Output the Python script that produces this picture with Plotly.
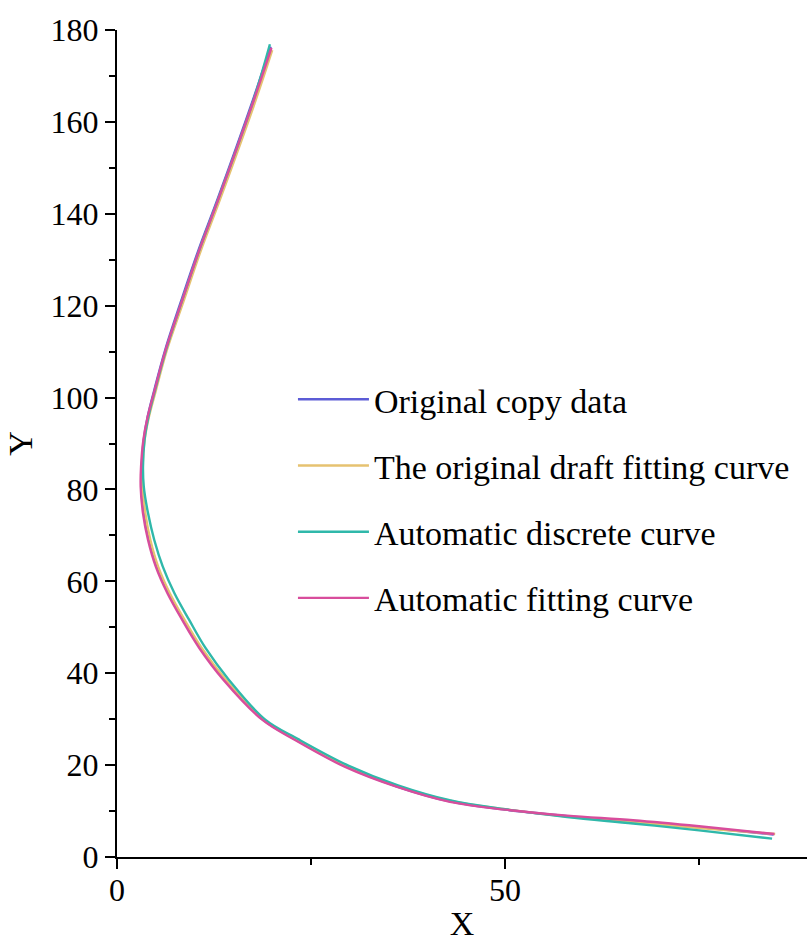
import plotly.graph_objects as go

# Original copy data
orig_x = [19.8, 17.5, 12.9, 10.5, 8.3, 6.2, 4.8, 3.95, 3.45, 3.2, 3.2, 3.55, 4.2, 5.2, 6.7, 8.6,
          10.8, 13.9, 18.8, 23.1, 29.5, 36.0, 42.9, 50.0, 58.0, 66.5, 75.0, 84.6]
orig_y = [176.4, 164.7, 142.9, 132.1, 121.2, 110.3, 101.6, 95.8, 90.8, 85.0, 80.6, 74.8, 69.0, 63.2, 57.4, 51.6,
          45.5, 38.6, 29.9, 25.5, 19.7, 15.4, 12.1, 10.3, 8.9, 7.75, 6.5, 4.9]

# The original draft fitting curve
draft_x = [20.0, 17.8, 13.2, 10.8, 8.6, 6.4, 5.0, 4.1, 3.55, 3.3, 3.3, 3.65, 4.3, 5.3, 6.8, 8.7,
           10.9, 14.0, 18.9, 23.2, 29.6, 36.1, 43.0, 50.0, 58.0, 66.5, 75.0, 84.8]
draft_y = [175.6, 164.4, 142.8, 132.0, 121.1, 110.2, 101.5, 95.7, 90.7, 85.0, 80.6, 74.8, 69.0, 63.2, 57.4, 51.6,
           45.5, 38.6, 29.9, 25.6, 19.8, 15.5, 12.2, 10.4, 8.8, 7.6, 6.3, 5.0]

# Automatic discrete curve
disc_x = [19.7, 17.6, 13.0, 10.6, 8.4, 6.3, 4.9, 4.05, 3.55, 3.35, 3.45, 4.0, 4.8, 5.9, 7.4, 9.3,
          11.4, 14.4, 19.1, 23.4, 29.8, 36.2, 43.0, 50.0, 58.0, 66.5, 75.0, 84.4]
disc_y = [176.9, 164.8, 143.0, 132.1, 121.2, 110.3, 101.6, 95.8, 90.8, 85.0, 80.6, 74.8, 69.0, 63.2, 57.4, 51.6,
          45.5, 38.6, 29.9, 25.6, 19.9, 15.6, 12.3, 10.4, 8.7, 7.3, 5.8, 4.0]

# Automatic fitting curve
auto_x = [19.9, 17.6, 13.0, 10.6, 8.4, 6.25, 4.85, 3.95, 3.4, 3.1, 3.05, 3.35, 4.0, 5.0, 6.5, 8.4,
          10.6, 13.7, 18.7, 23.0, 29.4, 36.0, 42.9, 50.0, 58.0, 66.5, 75.0, 84.7]
auto_y = [176.1, 164.6, 142.9, 132.1, 121.2, 110.3, 101.6, 95.8, 90.8, 85.0, 80.6, 74.8, 69.0, 63.2, 57.4, 51.6,
          45.5, 38.6, 29.9, 25.4, 19.6, 15.3, 12.0, 10.3, 9.0, 8.0, 6.7, 5.0]

names = ["Original copy data", "The original draft fitting curve",
         "Automatic discrete curve", "Automatic fitting curve"]
colors = ["#5c5cd6", "#e6c270", "#2fb8aa", "#d84d9c"]
series = [(orig_x, orig_y), (draft_x, draft_y), (disc_x, disc_y), (auto_x, auto_y)]

FONT = "Liberation Serif, Times New Roman, serif"

fig = go.Figure()
for i, ((xs, ys), name, col) in enumerate(zip(series, names, colors)):
    fig.add_trace(go.Scatter(
        x=xs, y=ys, mode="lines", name=name, legendgroup=f"g{i}",
        line=dict(color=col, width=2.4, shape="spline", smoothing=1.0),
    ))

axis_common = dict(
    showline=True, linecolor="black", linewidth=2,
    showgrid=False, zeroline=False,
    ticks="outside", ticklen=10, tickwidth=2, tickcolor="black",
    tickfont=dict(family=FONT, size=32, color="black"),
)

fig.update_layout(
    width=807, height=943,
    margin=dict(l=117, r=0, t=30, b=86),
    paper_bgcolor="white", plot_bgcolor="white",
    font=dict(family=FONT, color="black"),
    showlegend=True,
    legend=dict(
        x=0.255, y=0.588, xanchor="left", yanchor="top",
        font=dict(family=FONT, size=34, color="black"),
        bgcolor="rgba(0,0,0,0)", borderwidth=0,
        traceorder="grouped", tracegroupgap=19, itemwidth=71,
    ),
    xaxis=dict(
        range=[0, 88.9], tick0=0, dtick=50,
        minor=dict(dtick=25, ticklen=6, tickwidth=2, tickcolor="black", ticks="outside"),
        title=dict(text="X", font=dict(family=FONT, size=34), standoff=4),
        ticklabelstandoff=-6,
        **axis_common,
    ),
    yaxis=dict(
        range=[0, 180], tick0=0, dtick=20,
        minor=dict(dtick=10, ticklen=6, tickwidth=2, tickcolor="black", ticks="outside"),
        title=dict(text="Y", font=dict(family=FONT, size=34), standoff=8),
        **axis_common,
    ),
)

fig.write_html("out.html")
